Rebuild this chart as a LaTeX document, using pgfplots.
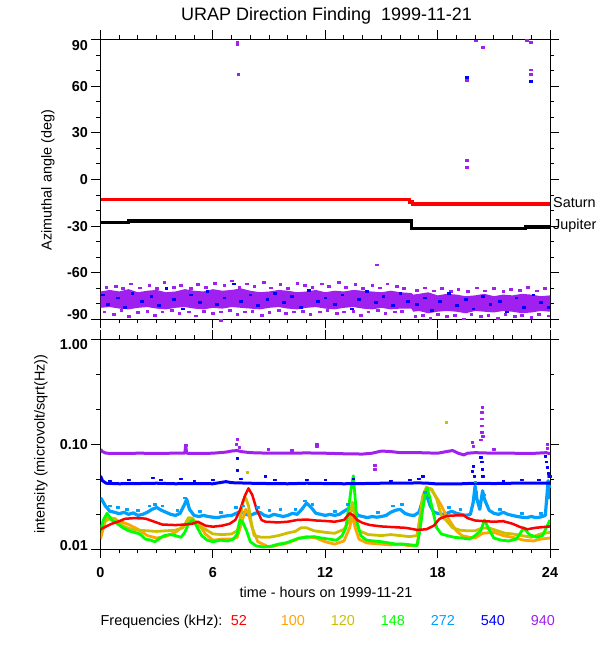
\documentclass[border=0pt]{standalone}
\usepackage{fontspec}
\setmainfont{Liberation Sans}
\usepackage{pgfplots}
\pgfplotsset{compat=1.18}
\definecolor{cA}{RGB}{255,0,0}
\definecolor{cB}{RGB}{255,165,0}
\definecolor{cC}{RGB}{205,190,0}
\definecolor{cD}{RGB}{0,255,0}
\definecolor{cE}{RGB}{0,160,255}
\definecolor{cF}{RGB}{0,0,255}
\definecolor{cG}{RGB}{160,32,240}
\newcommand{\tf}{\fontsize{14.4bp}{17bp}\selectfont}
\begin{document}
\begin{tikzpicture}[font=\tf]
\useasboundingbox (0,0) rectangle (600bp,650bp);
% ---------------- top panel ----------------
\begin{axis}[at={(100.5bp,330.5bp)}, anchor=south west, scale only axis,
  width=449.5bp, height=280bp,
  xmin=0, xmax=24, ymin=-90, ymax=90,
  xtick={0,6,12,18,24}, minor x tick num=5, xticklabel=\empty,
  ytick={-90,-60,-30,0,30,60,90}, minor y tick num=2,
  yticklabels={\raisebox{5bp}[\height][\depth]{-90},-60,-30,0,30,60,\raisebox{-6bp}[\height][\depth]{90}},
  tick align=outside, major tick length=9bp, minor tick length=4bp,
  tick style={black, line width=1bp},
  axis line style={line width=1bp},
  yticklabel style={font=\tf\bfseries},
  clip=false]
% dense core of the scatter band
\addplot[fill=cG, draw=none] coordinates {
(0,-72)(0.5,-71)(1,-72)(1.5,-70.5)(2,-72.5)(2.5,-71.5)(3,-71)(3.5,-72.5)(4,-72)(4.5,-70.5)(5,-71.5)(5.5,-72)(6,-70.5)(6.5,-71.5)(7,-71)(7.5,-70)(8,-71.5)(8.5,-72.5)(9,-72)(9.5,-71)(10,-71.5)(10.5,-72.5)(11,-72)(11.5,-71)(12,-72.5)(12.5,-71.5)(13,-72)(13.5,-71)(14,-71.5)(14.5,-72)(15,-72.5)(15.5,-71.5)(16,-72.5)(16.6,-73)(16.7,-74)(17,-73.5)(17.5,-72.5)(18,-74.5)(18.5,-73.5)(19,-74)(19.5,-75)(20,-74.5)(20.5,-73.5)(21,-75)(21.5,-74)(22,-74.5)(22.5,-73.5)(23,-74)(23.5,-75)(24,-74.5)
(24,-85)(23.5,-84.5)(23,-85.5)(22.5,-86)(22,-85)(21.5,-84.5)(21,-85.5)(20.5,-85)(20,-84.5)(19.5,-86)(19,-85)(18.5,-84.5)(18,-85)(17.5,-86)(17,-84.5)(16.7,-85)(16.6,-83)(16,-83)(15.5,-83.5)(15,-82.5)(14.5,-83.5)(14,-83)(13.5,-82)(13,-82.5)(12.5,-83.5)(12,-83)(11.5,-82)(11,-82.5)(10.5,-83.5)(10,-83)(9.5,-82)(9,-82.5)(8.5,-83.5)(8,-83)(7.5,-82.5)(7,-82)(6.5,-83)(6,-82.5)(5.5,-83.5)(5,-83)(4.5,-82)(4,-82.5)(3.5,-83.5)(3,-83)(2.5,-82)(2,-82.5)(1.5,-83.5)(1,-83)(0.5,-82)(0,-82.5)};
% purple fringe points
\addplot[only marks, mark=square*, mark size=0.9bp, cG, every mark/.append style={xscale=1.5}] coordinates {
(0.3,-69)(0.8,-68.5)(1.2,-70)(1.6,-67)(2.1,-69.5)(2.6,-68)(3.0,-70)(3.4,-66)(3.9,-69)(4.3,-68)(4.8,-70)(5.2,-67.5)(5.6,-69)(6.1,-66.5)(6.6,-68)(7.0,-65)(7.4,-69)(7.8,-67)(8.2,-68.5)(8.7,-66)(9.1,-69.5)(9.6,-67.5)(10.0,-70)(10.5,-66.5)(10.9,-68)(11.3,-69)(11.8,-67)(12.2,-68.5)(12.7,-66)(13.1,-69)(13.6,-67.5)(14.0,-70)(14.5,-68)(14.9,-69.5)(15.3,-67)(15.8,-68.5)(16.2,-70)
(16.9,-71)(17.3,-69.5)(17.8,-71.5)(18.2,-70)(18.7,-72)(19.1,-70.5)(19.6,-72)(20.1,-69.5)(20.5,-71.5)(21.0,-70)(21.5,-72)(21.9,-70.5)(22.4,-71)(22.8,-69)(23.3,-71.5)(23.7,-70)
(0.2,-85)(0.7,-86.5)(1.1,-84)(1.5,-88)(2.0,-85.5)(2.5,-84.5)(2.9,-87)(3.3,-85)(3.8,-84)(4.2,-86)(4.7,-85)(5.1,-87.5)(5.5,-84.5)(6.0,-86)(6.4,-85)(6.9,-84)(7.3,-86.5)(7.7,-85)(8.1,-84.5)(8.6,-87)(9.0,-85.5)(9.5,-84)(9.9,-86)(10.3,-85)(10.8,-84.5)(11.2,-86.5)(11.7,-85)(12.1,-84)(12.6,-86)(13.0,-85)(13.5,-84.5)(13.9,-87)(14.3,-85)(14.8,-84)(15.2,-86)(15.7,-85)(16.1,-84.5)
(16.8,-88)(17.2,-87)(17.6,-89)(18.0,-86.5)(18.5,-88)(18.9,-87)(19.4,-89.5)(19.8,-86.5)(20.3,-88)(20.7,-87)(21.2,-89)(21.6,-86.5)(22.1,-88)(22.5,-87)(23.0,-88.5)(23.4,-86.5)(23.9,-87.5)(6.4,-90.5)
(7.3,88.6)(7.3,86.9)(7.35,67.9)(19.54,64)(19.54,12.2)(19.54,8)(20.05,89.2)(20.4,85)(22.77,89.5)(22.97,88)(22.97,70.6)(22.97,67.9)(14.76,-54.8)};
% blue points
\addplot[only marks, mark=square*, mark size=0.9bp, cF, every mark/.append style={xscale=1.5}] coordinates {
(0.1,-74)(0.4,-80)(0.9,-76)(1.3,-82)(1.7,-73)(2.2,-78)(2.7,-75)(3.1,-81)(3.5,-70)(3.9,-77)(4.4,-83)(4.8,-74)(5.3,-79)(5.7,-72)(6.2,-80)(6.6,-76)(7.1,-67)(7.5,-78)(8.0,-74)(8.4,-81)(8.9,-77)(9.3,-73)(9.8,-79)(10.2,-75)(10.7,-82)(11.1,-71)(11.6,-78)(12.0,-76)(12.5,-80)(12.9,-74)(13.4,-83)(13.8,-77)(14.2,-72)(14.7,-79)(15.1,-75)(15.6,-81)(16.0,-73)(16.4,-78)(16.9,-80)(17.3,-76)(17.7,-84)(18.1,-78)(18.6,-73)(19.0,-81)(19.5,-77)(19.9,-83)(20.4,-75)(20.8,-80)(21.3,-78)(21.7,-85)(22.2,-76)(22.6,-82)(23.1,-74)(23.5,-79)(23.9,-82)
(19.54,65.5)(22.97,63.4)};
% Saturn and Jupiter
\addplot[cA, line width=3.3bp] coordinates {(0,-12.7)(16.5,-12.7)(16.5,-14.5)(16.65,-14.5)(16.65,-15.7)(24,-15.7)};
\addplot[black, line width=3.3bp] coordinates {(0,-27.5)(1.5,-27.5)(1.5,-26.7)(16.6,-26.7)(16.6,-31.4)(22.7,-31.4)(22.7,-30.5)(24,-30.5)};
\end{axis}
% ---------------- bottom panel ----------------
\begin{axis}[at={(100.5bp,100.7bp)}, anchor=south west, scale only axis,
  width=449.5bp, height=210.3bp,
  xmin=0, xmax=24, ymode=log, ymin=0.01, ymax=1,
  xtick={0,6,12,18,24}, minor x tick num=5, xticklabels={0,6,12,18,24},
  ytick={0.01,0.1,1}, yticklabels={\raisebox{4bp}[\height][\depth]{0.01},0.10,\raisebox{-6bp}[\height][\depth]{1.00}},
  minor ytick={0.021544,0.046416,0.21544,0.46416},
  tick align=outside, major tick length=9bp, minor tick length=4bp,
  tick style={black, line width=1bp},
  axis line style={line width=1bp},
  tick label style={font=\tf\bfseries},
  xticklabel style={yshift=-6bp},
  line join=round]
% 272 kHz
\addplot[cE, line width=3.2bp] coordinates {
(0.0,0.031)(0.1,0.029)(0.25,0.026)(0.5,0.023)(0.75,0.0225)(1.0,0.0218)(1.25,0.0225)(1.5,0.0215)(1.75,0.0222)(2.0,0.021)(2.25,0.0215)(2.5,0.0225)(2.75,0.024)(3.0,0.025)(3.25,0.0235)(3.5,0.0225)(3.75,0.0215)(4.0,0.021)(4.25,0.022)(4.5,0.027)(4.6,0.030)(4.75,0.024)(5.0,0.021)(5.25,0.0205)(5.5,0.021)(5.75,0.0205)(6.0,0.0202)(6.25,0.020)(6.5,0.0205)(6.75,0.0208)(7.0,0.021)(7.25,0.022)(7.5,0.023)(7.75,0.0215)(8.0,0.021)(8.25,0.022)(8.5,0.0225)(8.75,0.021)(9.0,0.0205)(9.25,0.0215)(9.5,0.021)(9.75,0.0205)(10.0,0.021)(10.25,0.022)(10.5,0.0215)(10.75,0.024)(11.0,0.0275)(11.25,0.025)(11.5,0.022)(11.75,0.0215)(12.0,0.021)(12.25,0.0215)(12.5,0.021)(12.75,0.0215)(13.0,0.023)(13.25,0.0245)(13.5,0.024)(13.75,0.021)(14.0,0.0205)(14.25,0.020)(14.5,0.0205)(14.75,0.0202)(15.0,0.0205)(15.25,0.021)(15.5,0.0225)(15.75,0.0235)(16.0,0.024)(16.25,0.022)(16.5,0.0212)(16.75,0.021)(17.0,0.0225)(17.2,0.029)(17.4,0.033)(17.6,0.026)(17.8,0.0225)(18.0,0.022)(18.25,0.0215)(18.5,0.022)(18.75,0.023)(19.0,0.022)(19.25,0.0215)(19.5,0.021)(19.75,0.0215)(19.9,0.028)(20.0,0.040)(20.1,0.030)(20.25,0.024)(20.4,0.036)(20.5,0.030)(20.75,0.0235)(21.0,0.022)(21.25,0.0215)(21.5,0.0225)(21.75,0.0215)(22.0,0.021)(22.25,0.0205)(22.5,0.0202)(22.75,0.020)(23.0,0.0205)(23.25,0.020)(23.5,0.0203)(23.75,0.021)(23.9,0.045)(24.0,0.030)};
\addplot[only marks, mark=square*, mark size=0.9bp, cE, every mark/.append style={xscale=1.5}] coordinates {
(0.5,0.026)(0.9,0.025)(1.4,0.024)(2.0,0.0235)(2.6,0.026)(2.9,0.027)(3.3,0.026)(4.1,0.0235)(4.5,0.031)(5.3,0.023)(6.4,0.0225)(7.2,0.025)(7.6,0.026)(8.4,0.025)(9.0,0.0235)(9.6,0.024)(10.4,0.024)(10.9,0.029)(11.3,0.027)(12.5,0.023)(13.2,0.027)(14.8,0.0225)(15.6,0.026)(16.1,0.027)(17.3,0.035)(17.5,0.031)(18.6,0.025)(19.2,0.024)(20.0,0.044)(20.05,0.035)(20.45,0.033)(21.3,0.024)(22.5,0.022)(23.5,0.022)(23.9,0.05)(23.92,0.04)};
% 100 kHz
\addplot[cB, line width=2.8bp] coordinates {
(0.0,0.0125)(0.15,0.016)(0.3,0.020)(0.6,0.019)(1.0,0.0185)(1.5,0.0172)(2.0,0.0155)(2.5,0.0135)(3.0,0.0128)(3.5,0.0133)(4.0,0.0145)(4.5,0.017)(4.8,0.0195)(5.2,0.0178)(5.6,0.014)(6.0,0.0122)(6.5,0.0125)(7.0,0.0125)(7.3,0.013)(7.5,0.017)(7.75,0.024)(7.9,0.022)(8.1,0.016)(8.4,0.0118)(9.0,0.0105)(9.5,0.011)(10.0,0.0115)(10.5,0.0125)(11.0,0.0132)(11.5,0.0128)(12.0,0.0118)(12.5,0.0112)(13.0,0.012)(13.3,0.016)(13.45,0.021)(13.6,0.016)(13.8,0.0125)(14.2,0.0115)(15.0,0.0112)(15.5,0.011)(16.0,0.0112)(16.5,0.0108)(16.9,0.011)(17.05,0.016)(17.2,0.028)(17.4,0.036)(17.6,0.038)(17.8,0.034)(18.0,0.030)(18.2,0.026)(18.4,0.022)(18.7,0.018)(19.0,0.015)(19.3,0.0135)(19.7,0.013)(20.0,0.0128)(20.4,0.0142)(21.0,0.0145)(21.5,0.0135)(22.0,0.013)(22.6,0.0122)(23.1,0.012)(23.5,0.0125)(24.0,0.0128)};
% 120 kHz
\addplot[cC, line width=2.8bp] coordinates {
(0.0,0.016)(0.2,0.018)(0.5,0.020)(0.8,0.0195)(1.1,0.017)(1.5,0.0158)(2.0,0.0152)(2.5,0.015)(3.0,0.0148)(3.5,0.015)(4.0,0.0152)(4.4,0.016)(4.7,0.020)(4.9,0.0198)(5.2,0.017)(5.6,0.0155)(6.0,0.014)(6.5,0.0138)(7.0,0.014)(7.3,0.015)(7.45,0.019)(7.6,0.028)(7.75,0.031)(7.9,0.026)(8.05,0.018)(8.2,0.0135)(8.6,0.013)(9.0,0.013)(9.5,0.0135)(10.0,0.0143)(10.4,0.0148)(10.7,0.016)(11.0,0.016)(11.4,0.015)(12.0,0.0145)(12.5,0.0142)(13.0,0.0155)(13.3,0.019)(13.45,0.028)(13.6,0.02)(13.8,0.015)(14.3,0.0138)(15.0,0.0135)(15.5,0.0138)(16.0,0.0135)(16.5,0.0132)(16.9,0.0135)(17.05,0.02)(17.2,0.032)(17.4,0.039)(17.7,0.037)(17.95,0.030)(18.2,0.021)(18.5,0.0185)(18.8,0.016)(19.2,0.0152)(19.6,0.015)(20.0,0.015)(20.4,0.016)(20.8,0.0158)(21.2,0.015)(21.6,0.0142)(22.0,0.014)(22.5,0.0135)(23.0,0.013)(23.5,0.014)(24.0,0.0145)};
% 148 kHz
\addplot[cD, line width=2.8bp] coordinates {
(0.0,0.015)(0.15,0.019)(0.35,0.022)(0.6,0.019)(0.9,0.0175)(1.2,0.016)(1.5,0.015)(1.8,0.0145)(2.1,0.014)(2.4,0.0125)(2.7,0.0122)(2.9,0.0118)(3.1,0.0125)(3.4,0.0135)(3.7,0.0138)(4.0,0.0135)(4.3,0.013)(4.5,0.0145)(4.7,0.0175)(4.9,0.019)(5.1,0.017)(5.4,0.0135)(5.7,0.0122)(6.0,0.0118)(6.4,0.0122)(6.8,0.012)(7.1,0.0125)(7.3,0.014)(7.45,0.019)(7.6,0.018)(7.8,0.015)(8.0,0.0118)(8.3,0.0108)(8.7,0.0105)(9.1,0.0107)(9.5,0.0112)(9.9,0.0115)(10.3,0.0122)(10.6,0.0128)(11.0,0.013)(11.4,0.0132)(11.8,0.0128)(12.2,0.0125)(12.6,0.0122)(12.9,0.0135)(13.1,0.016)(13.25,0.025)(13.4,0.040)(13.5,0.050)(13.6,0.030)(13.7,0.018)(13.9,0.0135)(14.2,0.0122)(14.6,0.012)(15.0,0.0118)(15.4,0.0115)(15.8,0.0112)(16.2,0.0112)(16.6,0.011)(16.9,0.0108)(17.05,0.015)(17.2,0.024)(17.35,0.034)(17.45,0.038)(17.6,0.030)(17.8,0.021)(17.95,0.016)(18.2,0.014)(18.5,0.0135)(18.9,0.013)(19.3,0.0128)(19.7,0.0125)(20.0,0.0135)(20.3,0.015)(20.5,0.019)(20.7,0.016)(21.0,0.0128)(21.4,0.0122)(21.8,0.012)(22.2,0.0125)(22.6,0.016)(22.9,0.0138)(23.3,0.013)(23.6,0.0135)(23.8,0.016)(24.0,0.019)};
% 52 kHz
\addplot[cA, line width=2.5bp] coordinates {
(0.0,0.0155)(0.3,0.0165)(0.6,0.0175)(1.0,0.0185)(1.3,0.0195)(1.8,0.0198)(2.4,0.0196)(2.8,0.0185)(3.3,0.0172)(4.0,0.0170)(4.5,0.0172)(4.9,0.0175)(5.2,0.0183)(5.6,0.0168)(6.0,0.0164)(6.5,0.0168)(6.9,0.0175)(7.2,0.0190)(7.45,0.0236)(7.7,0.032)(7.9,0.038)(8.1,0.033)(8.35,0.0236)(8.6,0.0190)(8.8,0.0183)(9.5,0.0180)(10.0,0.0183)(10.5,0.0190)(11.0,0.0192)(11.5,0.0188)(12.0,0.0186)(12.5,0.0183)(13.0,0.0190)(13.3,0.022)(13.5,0.021)(13.7,0.0190)(14.0,0.0178)(14.4,0.0170)(15.0,0.0165)(15.5,0.0163)(16.3,0.0160)(16.9,0.0153)(17.4,0.0155)(17.8,0.0168)(18.1,0.0195)(18.5,0.0208)(19.0,0.0210)(19.4,0.0210)(19.6,0.0198)(20.0,0.0188)(20.5,0.0185)(21.0,0.0183)(21.5,0.0185)(22.0,0.0175)(22.4,0.0163)(22.8,0.0155)(23.2,0.0160)(23.7,0.0163)(24.0,0.0165)};
% 540 kHz
\addplot[cF, line width=3bp] coordinates {
(0,0.05)(0.1,0.045)(0.3,0.0425)(1,0.042)(2,0.0422)(3,0.0425)(4,0.042)(5,0.0422)(6,0.042)(6.7,0.044)(7,0.043)(8,0.0425)(9,0.0422)(10,0.042)(11,0.0425)(12,0.0422)(13,0.042)(14,0.0422)(15,0.0425)(16,0.0425)(17,0.0428)(17.5,0.0425)(18,0.0418)(19,0.0418)(20,0.0425)(21,0.0422)(22,0.0425)(23,0.0425)(24,0.0425)};
\addplot[only marks, mark=square*, mark size=0.9bp, cF, every mark/.append style={xscale=1.5}] coordinates {
(0.5,0.045)(1.5,0.046)(2.8,0.048)(3.2,0.046)(4.3,0.047)(5.0,0.045)(6.0,0.046)(7.3,0.073)(7.3,0.057)(7.5,0.047)(8.8,0.05)(9.3,0.046)(11.0,0.046)(12.0,0.046)(13.5,0.047)(15.5,0.045)(16.5,0.046)(17.2,0.05)(17.0,0.047)(19.85,0.055)(19.9,0.062)(19.95,0.05)(20.3,0.075)(20.35,0.068)(20.38,0.058)(20.4,0.05)(21.5,0.045)(22.5,0.046)(23.4,0.046)(23.75,0.077)(23.8,0.068)(23.85,0.06)(23.9,0.053)(24,0.05)};
% 940 kHz
\addplot[cG, line width=3bp] coordinates {
(0,0.089)(0.1,0.085)(0.3,0.082)(1,0.0815)(2,0.082)(3,0.0818)(4,0.082)(4.5,0.082)(4.55,0.097)(4.6,0.082)(5,0.0815)(6,0.082)(6.7,0.084)(7,0.086)(7.3,0.087)(7.5,0.085)(8,0.083)(9,0.082)(10,0.082)(11,0.0825)(12,0.082)(13,0.081)(14,0.0805)(14.5,0.082)(15,0.086)(15.5,0.085)(16,0.083)(17,0.083)(18,0.082)(18.8,0.087)(19.1,0.082)(19.4,0.079)(19.6,0.082)(20,0.083)(21,0.082)(22,0.082)(23,0.0815)(23.8,0.083)(24,0.081)};
\addplot[only marks, mark=square*, mark size=0.9bp, cG, every mark/.append style={xscale=1.5}] coordinates {
(4.55,0.097)(7.3,0.111)(7.25,0.1)(7.4,0.093)(8.95,0.09)(10.2,0.088)(11.55,0.1)(11.55,0.095)(14.65,0.063)(14.65,0.058)(19.85,0.105)(19.9,0.095)(20.3,0.11)(20.35,0.13)(20.35,0.15)(20.37,0.175)(20.37,0.2)(20.38,0.225)(20.4,0.12)(23.85,0.1)(23.85,0.092)(21,0.09)};
\addplot[only marks, mark=square*, mark size=0.9bp, cC] coordinates {(18.45,0.163)(7.85,0.054)};
\end{axis}
% ---------------- texts ----------------
\node[anchor=base, inner sep=0, font=\fontsize{18bp}{20bp}\selectfont] at (326.5bp,629.7bp) {URAP Direction Finding\ \ 1999-11-21};
\node[rotate=90, anchor=base, inner sep=0] at (51.5bp,470bp) {Azimuthal angle (deg)};
\node[rotate=90, anchor=base, inner sep=0] at (44.5bp,206bp) {intensity (microvolt/sqrt(Hz))};
\node[anchor=base, inner sep=0] at (326bp,52bp) {time - hours on 1999-11-21};
\node[anchor=base west, inner sep=0] at (553bp,442bp) {Saturn};
\node[anchor=base west, inner sep=0] at (553bp,420bp) {Jupiter};
\node[anchor=base west, inner sep=0] at (100.5bp,24.5bp) {Frequencies (kHz):};
\node[anchor=base west, inner sep=0, text=cA] at (230.7bp,24.5bp) {52};
\node[anchor=base west, inner sep=0, text=cB] at (280.7bp,24.5bp) {100};
\node[anchor=base west, inner sep=0, text=cC] at (330.7bp,24.5bp) {120};
\node[anchor=base west, inner sep=0, text=cD] at (380.7bp,24.5bp) {148};
\node[anchor=base west, inner sep=0, text=cE] at (430.7bp,24.5bp) {272};
\node[anchor=base west, inner sep=0, text=cF] at (480.7bp,24.5bp) {540};
\node[anchor=base west, inner sep=0, text=cG] at (530.7bp,24.5bp) {940};
\end{tikzpicture}
\end{document}
